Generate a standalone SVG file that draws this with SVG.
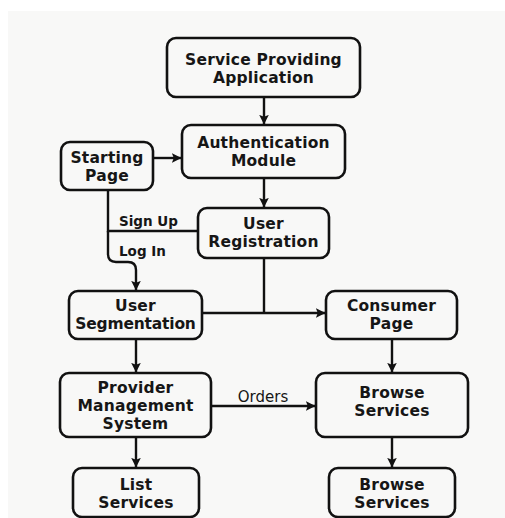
<svg xmlns="http://www.w3.org/2000/svg" width="505" height="518" viewBox="0 0 505 518">
<defs>
<marker id="ah" viewBox="0 0 10 10" refX="9.5" refY="5" markerWidth="4" markerHeight="4" orient="auto" markerUnits="strokeWidth">
<path d="M0,0 L10,5 L0,10 L2,5 Z" fill="#111"/>
</marker>
</defs>
<style>
.box{fill:#f8f8f7;stroke:#111;stroke-width:2.6}
.t{font-family:"DejaVu Sans","Liberation Sans",sans-serif;font-weight:bold;font-size:15.5px;letter-spacing:0.2px;fill:#161616;text-anchor:middle}
.n{letter-spacing:-0.2px}
.lbl{font-family:"DejaVu Sans","Liberation Sans",sans-serif;font-weight:bold;font-size:13.5px;fill:#161616}
.ord{font-family:"DejaVu Sans","Liberation Sans",sans-serif;font-size:15px;fill:#161616;text-anchor:middle}
.c{fill:none;stroke:#111;stroke-width:2.4}
.a{marker-end:url(#ah)}
</style>
<rect x="0" y="0" width="505" height="518" fill="#ffffff"/>
<rect x="8" y="11" width="497" height="507" fill="#f8f8f7"/>

<g id="connectors">
<path class="c a" d="M264,97 V124"/>
<path class="c a" d="M153,158 H181"/>
<path class="c a" d="M264,178 V207"/>
<path class="c" d="M108,190 V231 H198"/>
<path class="c a" d="M108,231 V254 Q108,262 116,262 H128 Q136,262 136,270 V290"/>
<path class="c" d="M264,258 V313"/>
<path class="c a" d="M202,313 H325"/>
<path class="c a" d="M136,339 V372"/>
<path class="c a" d="M392,339 V372"/>
<path class="c a" d="M211,406 H315"/>
<path class="c a" d="M136,437 V467"/>
<path class="c a" d="M392,437 V467"/>
<text class="lbl" x="119" y="226">Sign Up</text>
<text class="lbl" x="119" y="256">Log In</text>
<text class="ord" x="263" y="402">Orders</text>
</g>

<g id="service-providing-application">
<rect class="box" x="167" y="38" width="193" height="59" rx="9"/>
<text class="t" x="263.5" y="64.5">Service Providing</text>
<text class="t" x="263.5" y="82.5">Application</text>
</g>
<g id="authentication-module">
<rect class="box" x="182" y="125" width="163" height="53" rx="9"/>
<text class="t" x="263.5" y="148">Authentication</text>
<text class="t" x="263.5" y="166">Module</text>
</g>
<g id="starting-page">
<rect class="box" x="61" y="142" width="92" height="48" rx="9"/>
<text class="t" x="107" y="162.5">Starting</text>
<text class="t" x="107" y="180.5">Page</text>
</g>
<g id="user-registration">
<rect class="box" x="198" y="208" width="131" height="50" rx="9"/>
<text class="t" x="263.5" y="229">User</text>
<text class="t" x="263.5" y="247">Registration</text>
</g>
<g id="user-segmentation">
<rect class="box" x="69" y="291" width="133" height="48" rx="9"/>
<text class="t" x="135.5" y="311">User</text>
<text class="t n" x="135.5" y="329">Segmentation</text>
</g>
<g id="consumer-page">
<rect class="box" x="326" y="291" width="131" height="48" rx="9"/>
<text class="t" x="391.5" y="311">Consumer</text>
<text class="t" x="391.5" y="329">Page</text>
</g>
<g id="provider-management-system">
<rect class="box" x="60" y="373" width="151" height="64" rx="9"/>
<text class="t" x="135.5" y="392.5">Provider</text>
<text class="t" x="135.5" y="410.5">Management</text>
<text class="t" x="135.5" y="428.5">System</text>
</g>
<g id="browse-services-1">
<rect class="box" x="316" y="373" width="152" height="64" rx="9"/>
<text class="t" x="392" y="397.5">Browse</text>
<text class="t" x="392" y="415.5">Services</text>
</g>
<g id="list-services">
<rect class="box" x="73" y="468" width="126" height="49" rx="9"/>
<text class="t" x="136" y="489.5">List</text>
<text class="t" x="136" y="507.5">Services</text>
</g>
<g id="browse-services-2">
<rect class="box" x="329" y="468" width="126" height="49" rx="9"/>
<text class="t" x="392" y="489.5">Browse</text>
<text class="t" x="392" y="507.5">Services</text>
</g>
</svg>
